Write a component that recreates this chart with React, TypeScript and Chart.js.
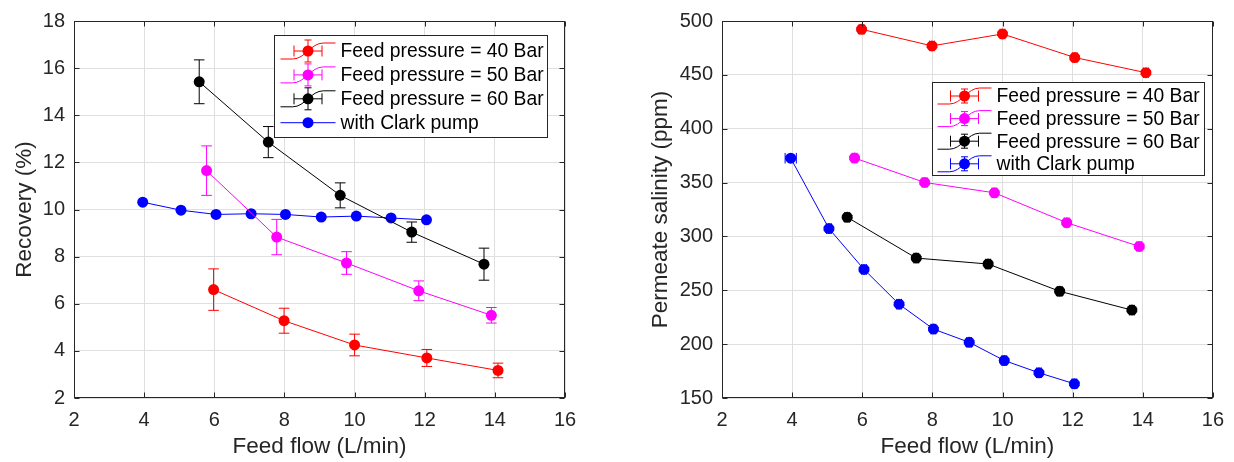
import React, { useEffect, useRef } from "react";
import { Chart, registerables } from "chart.js";

Chart.register(...registerables);

// ---------- data ----------
const flow40 = [5.98, 7.99, 10.0, 12.06, 14.09];
const flow50 = [5.78, 7.78, 9.77, 11.83, 13.9];
const flow60 = [5.57, 7.54, 9.59, 11.63, 13.69];
const flowClark = [3.96, 5.05, 6.05, 7.05, 8.03, 9.05, 10.05, 11.04, 12.05];

const recovery40 = [6.6, 5.28, 4.25, 3.7, 3.17];
const recoveryErr40 = [0.88, 0.53, 0.46, 0.36, 0.31];
const recovery50 = [11.65, 8.83, 7.73, 6.55, 5.51];
const recoveryErr50 = [1.05, 0.75, 0.48, 0.42, 0.33];
const recovery60 = [15.42, 12.86, 10.6, 9.04, 7.68];
const recoveryErr60 = [0.93, 0.66, 0.53, 0.43, 0.68];
const recoveryClark = [10.31, 9.97, 9.79, 9.82, 9.79, 9.68, 9.72, 9.64, 9.56];

const salinity40 = [492.3, 476.9, 488.0, 466.1, 452.0];
const salinity50 = [372.8, 350.1, 340.5, 312.8, 290.7];
const salinity60 = [317.8, 279.9, 274.4, 249.1, 231.6];
const salinityClark = [372.6, 307.3, 269.4, 237.1, 214.0, 201.7, 184.8, 173.4, 163.2];
const salinityErr5 = [1.5, 1.5, 1.5, 1.5, 1.5];
const salinityErrClark = [1.5, 1.5, 1.5, 1.5, 1.5, 1.5, 1.5, 1.5, 1.5];
const flowErr5 = [0.07, 0.07, 0.07, 0.07, 0.07];
const flowErrClark = [0.16, 0.07, 0.07, 0.07, 0.07, 0.07, 0.07, 0.07, 0.07];

const flowTicks = [2, 4, 6, 8, 10, 12, 14, 16];
const recoveryTicks = [2, 4, 6, 8, 10, 12, 14, 16, 18];
const salinityTicks = [150, 200, 250, 300, 350, 400, 450, 500];

const labels = [
  "Feed pressure = 40 Bar",
  "Feed pressure = 50 Bar",
  "Feed pressure = 60 Bar",
  "with Clark pump",
];
const colors = ["#ff0000", "#ff00ff", "#000000", "#0000ff"];

const FONT = '"Liberation Sans", Arial, Helvetica, sans-serif';
const AXIS = "#262626";

type Series = {
  label: string;
  color: string;
  x: number[];
  y: number[];
  xErr: number[] | null;
  yErr: number[] | null;
  legendErr: boolean;
};

type LegendCfg = {
  insetRight: number;
  insetTop: number;
  width: number;
  height: number;
  firstRow: number;
  rowH: number;
  lineStart: number;
  lineLen: number;
  textStart: number;
  glyphV: number;
};

type PanelCfg = {
  series: Series[];
  yTicks: number[];
  yMin: number;
  yMax: number;
  yTitle: string;
  yAxisWidth: number;
  yTitlePad: number;
  padRight: number;
  legend: LegendCfg;
};

function line(ctx: CanvasRenderingContext2D, x1: number, y1: number, x2: number, y2: number) {
  ctx.beginPath();
  ctx.moveTo(x1, y1);
  ctx.lineTo(x2, y2);
  ctx.stroke();
}

function makeChart(canvas: HTMLCanvasElement, cfg: PanelCfg) {
  const datasets = cfg.series.map((s) => ({
    label: s.label,
    data: s.x.map((x, i) => ({ x, y: s.y[i] })),
    showLine: true,
    borderColor: s.color,
    backgroundColor: s.color,
    borderWidth: 1,
    pointRadius: 5.5,
    pointBorderWidth: 0,
    pointBackgroundColor: s.color,
    errX: s.xErr,
    errY: s.yErr,
  }));

  const errorBars = {
    id: "errorBars",
    beforeDatasetsDraw(chart: any) {
      const ctx = chart.ctx as CanvasRenderingContext2D;
      const xs = chart.scales.x;
      const ys = chart.scales.y;
      const cap = 5.3;
      chart.data.datasets.forEach((ds: any) => {
        ctx.save();
        ctx.strokeStyle = ds.borderColor;
        ctx.lineWidth = 1;
        ds.data.forEach((p: any, i: number) => {
          const px = xs.getPixelForValue(p.x);
          const py = ys.getPixelForValue(p.y);
          if (ds.errY) {
            const t = ys.getPixelForValue(p.y + ds.errY[i]);
            const b = ys.getPixelForValue(p.y - ds.errY[i]);
            line(ctx, px, t, px, b);
            line(ctx, px - cap, t, px + cap, t);
            line(ctx, px - cap, b, px + cap, b);
          }
          if (ds.errX) {
            const l = xs.getPixelForValue(p.x - ds.errX[i]);
            const r = xs.getPixelForValue(p.x + ds.errX[i]);
            line(ctx, l, py, r, py);
            line(ctx, l, py - cap, l, py + cap);
            line(ctx, r, py - cap, r, py + cap);
          }
        });
        ctx.restore();
      });
    },
  };

  const boxAndLegend = {
    id: "boxAndLegend",
    afterDraw(chart: any) {
      const ctx = chart.ctx as CanvasRenderingContext2D;
      const ca = chart.chartArea;
      const xs = chart.scales.x;
      const ys = chart.scales.y;
      ctx.save();
      // axes box
      ctx.strokeStyle = AXIS;
      ctx.lineWidth = 1;
      const L = Math.round(ca.left) + 0.5;
      const R = Math.round(ca.right) - 0.5;
      const T = Math.round(ca.top) + 0.5;
      const B = Math.round(ca.bottom) - 0.5;
      ctx.strokeRect(L, T, R - L, B - T);
      const tl = 5;
      flowTicks.forEach((v) => {
        const px = Math.round(xs.getPixelForValue(v)) + 0.5;
        line(ctx, px, B, px, B - tl);
        line(ctx, px, T, px, T + tl);
      });
      cfg.yTicks.forEach((v) => {
        const py = Math.round(ys.getPixelForValue(v)) + 0.5;
        line(ctx, L, py, L + tl, py);
        line(ctx, R, py, R - tl, py);
      });

      // legend
      const lg = cfg.legend;
      const bx = Math.round(ca.right - lg.insetRight - lg.width) + 0.5;
      const by = Math.round(ca.top + lg.insetTop) + 0.5;
      ctx.fillStyle = "#ffffff";
      ctx.fillRect(bx, by, lg.width, lg.height);
      ctx.strokeStyle = AXIS;
      ctx.strokeRect(bx, by, lg.width, lg.height);
      ctx.font = `19.3px ${FONT}`;
      ctx.textBaseline = "middle";
      ctx.textAlign = "left";
      cfg.series.forEach((s, i) => {
        const y = by + lg.firstRow + i * lg.rowH;
        const x0 = bx + lg.lineStart;
        const len = lg.lineLen;
        const cx = x0 + len / 2;
        ctx.strokeStyle = s.color;
        ctx.fillStyle = s.color;
        ctx.lineWidth = 1;
        if (s.legendErr) {
          ctx.beginPath();
          ctx.moveTo(x0, y + 8);
          ctx.lineTo(x0 + len * 0.22, y + 8);
          ctx.bezierCurveTo(x0 + len * 0.45, y + 8, x0 + len * 0.55, y - 8, x0 + len * 0.78, y - 8);
          ctx.lineTo(x0 + len, y - 8);
          ctx.stroke();
          // error glyph
          const hw = 14;
          const vh = lg.glyphV;
          line(ctx, cx - hw, y, cx + hw, y);
          line(ctx, cx - hw, y - 5.5, cx - hw, y + 5.5);
          line(ctx, cx + hw, y - 5.5, cx + hw, y + 5.5);
          line(ctx, cx, y - vh, cx, y + vh);
          line(ctx, cx - 3.5, y - vh, cx + 3.5, y - vh);
          line(ctx, cx - 3.5, y + vh, cx + 3.5, y + vh);
        } else {
          line(ctx, x0, y, x0 + len, y);
        }
        ctx.beginPath();
        ctx.arc(cx, y, 5.5, 0, Math.PI * 2);
        ctx.fill();
        ctx.fillStyle = "#000000";
        ctx.fillText(s.label, bx + lg.textStart, y + 1);
      });
      ctx.restore();
    },
  };

  return new Chart(canvas, {
    type: "scatter",
    data: { datasets: datasets as any },
    options: {
      responsive: false,
      animation: false,
      events: [],
      layout: { padding: { left: 0, right: cfg.padRight, top: 19, bottom: 0 } },
      plugins: {
        legend: { display: false },
        tooltip: { enabled: false },
      },
      scales: {
        x: {
          type: "linear",
          min: 2,
          max: 16,
          afterBuildTicks: (s: any) => {
            s.ticks = flowTicks.map((v) => ({ value: v }));
          },
          afterFit: (s: any) => {
            s.height = 64;
          },
          grid: { color: "#dfdfdf", lineWidth: 1, drawTicks: false },
          border: { display: false },
          ticks: {
            font: { size: 20, family: FONT },
            color: AXIS,
            padding: 10,
            autoSkip: false,
            maxRotation: 0,
          },
          title: {
            display: true,
            text: "Feed flow (L/min)",
            font: { size: 22.5, family: FONT },
            color: AXIS,
            padding: { top: 0, bottom: 2 },
          },
        },
        y: {
          type: "linear",
          min: cfg.yMin,
          max: cfg.yMax,
          afterBuildTicks: (s: any) => {
            s.ticks = cfg.yTicks.map((v) => ({ value: v }));
          },
          afterFit: (s: any) => {
            s.width = cfg.yAxisWidth;
          },
          grid: { color: "#dfdfdf", lineWidth: 1, drawTicks: false },
          border: { display: false },
          ticks: {
            font: { size: 20, family: FONT },
            color: AXIS,
            padding: 9,
            autoSkip: false,
          },
          title: {
            display: true,
            text: cfg.yTitle,
            font: { size: 22.5, family: FONT },
            color: AXIS,
            padding: { top: cfg.yTitlePad, bottom: 0 },
          },
        },
      },
    },
    plugins: [errorBars, boxAndLegend],
  } as any);
}

const leftCfg: PanelCfg = {
  series: [
    { label: labels[0], color: colors[0], x: flow40, y: recovery40, xErr: null, yErr: recoveryErr40, legendErr: true },
    { label: labels[1], color: colors[1], x: flow50, y: recovery50, xErr: null, yErr: recoveryErr50, legendErr: true },
    { label: labels[2], color: colors[2], x: flow60, y: recovery60, xErr: null, yErr: recoveryErr60, legendErr: true },
    { label: labels[3], color: colors[3], x: flowClark, y: recoveryClark, xErr: null, yErr: null, legendErr: false },
  ],
  yTicks: recoveryTicks,
  yMin: 2,
  yMax: 18,
  yTitle: "Recovery (%)",
  yAxisWidth: 74,
  yTitlePad: 11.5,
  padRight: 52,
  legend: {
    insetRight: 18,
    insetTop: 14,
    width: 273,
    height: 102,
    firstRow: 15.5,
    rowH: 23.9,
    lineStart: 6,
    lineLen: 55,
    textStart: 66,
    glyphV: 11,
  },
};

const rightCfg: PanelCfg = {
  series: [
    { label: labels[0], color: colors[0], x: flow40, y: salinity40, xErr: flowErr5, yErr: salinityErr5, legendErr: true },
    { label: labels[1], color: colors[1], x: flow50, y: salinity50, xErr: flowErr5, yErr: salinityErr5, legendErr: true },
    { label: labels[2], color: colors[2], x: flow60, y: salinity60, xErr: flowErr5, yErr: salinityErr5, legendErr: true },
    { label: labels[3], color: colors[3], x: flowClark, y: salinityClark, xErr: flowErrClark, yErr: salinityErrClark, legendErr: true },
  ],
  yTicks: salinityTicks,
  yMin: 150,
  yMax: 500,
  yTitle: "Permeate salinity (ppm)",
  yAxisWidth: 105,
  yTitlePad: 30.5,
  padRight: 19,
  legend: {
    insetRight: 9,
    insetTop: 61,
    width: 272,
    height: 93,
    firstRow: 13.5,
    rowH: 22.6,
    lineStart: 5,
    lineLen: 54,
    textStart: 64,
    glyphV: 7,
  },
};

export default function App() {
  const leftRef = useRef<HTMLCanvasElement | null>(null);
  const rightRef = useRef<HTMLCanvasElement | null>(null);

  useEffect(() => {
    Chart.defaults.font.family = FONT;
    const c1 = leftRef.current ? makeChart(leftRef.current, leftCfg) : null;
    const c2 = rightRef.current ? makeChart(rightRef.current, rightCfg) : null;
    return () => {
      c1?.destroy();
      c2?.destroy();
    };
  }, []);

  return (
    <div style={{ position: "absolute", left: 0, top: 0, width: 1234, height: 462, background: "#ffffff" }}>
      <canvas
        ref={leftRef}
        width={617}
        height={462}
        style={{ position: "absolute", left: 0, top: 0, width: 617, height: 462 }}
      />
      <canvas
        ref={rightRef}
        width={617}
        height={462}
        style={{ position: "absolute", left: 617, top: 0, width: 617, height: 462 }}
      />
    </div>
  );
}
